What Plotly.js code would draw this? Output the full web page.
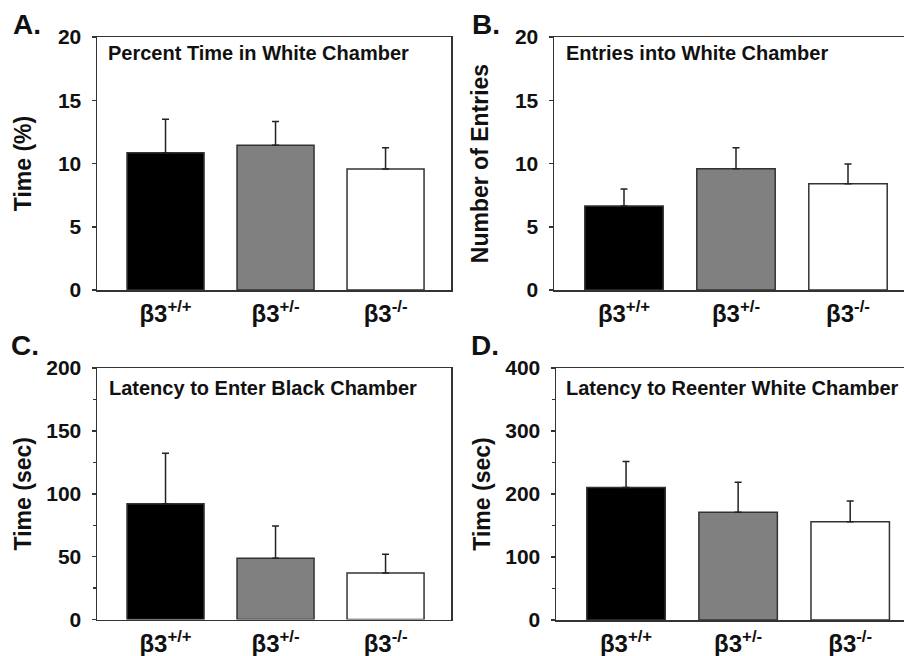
<!DOCTYPE html>
<html>
<head>
<meta charset="utf-8">
<script src="https://cdn.plot.ly/plotly-3.0.1.min.js"></script>
<style>html,body{margin:0;padding:0;background:#fff;}#chart{width:904px;height:656px;}</style>
</head>
<body>
<div id="chart"></div>
<script>
// ---- data ----
const genotypes = [0, 1, 2];
const genotypeLabels = ['β3<sup>+/+</sup>', 'β3<sup>+/-</sup>', 'β3<sup>-/-</sup>'];
const barColors = ['#000000', '#808080', '#ffffff'];

const percentTimeWhite = [10.85, 11.44, 9.57];
const percentTimeWhiteSem = [2.65, 1.89, 1.68];

const entriesWhite = [6.64, 9.59, 8.40];
const entriesWhiteSem = [1.34, 1.66, 1.56];

const latencyBlack = [92.1, 48.8, 36.9];
const latencyBlackSem = [40.2, 25.6, 14.9];

const latencyReenterWhite = [210.3, 171.2, 155.8];
const latencyReenterWhiteSem = [41.3, 47.4, 33.2];

const panelTitles = ['Percent Time in White Chamber', 'Entries into White Chamber',
                     'Latency to Enter Black Chamber', 'Latency to Reenter White Chamber'];
const panelLetters = ['A.', 'B.', 'C.', 'D.'];
const yTitles = ['Time (%)', 'Number of Entries', 'Time (sec)', 'Time (sec)'];

// ---- chart ----
const W = 904, H = 656;
const FONT = 'Liberation Sans, Arial, Helvetica, sans-serif';
const lineCol = '#333333';

function barTrace(vals, sems, xa, ya) {
  return {
    type: 'bar', x: genotypes, y: vals, width: 0.7,
    xaxis: xa, yaxis: ya,
    marker: {color: barColors, line: {color: lineCol, width: 1.5}},
    error_y: {type: 'data', array: sems, symmetric: false, arrayminus: [0, 0, 0],
              color: '#222222', thickness: 1.5, width: 3.5},
    showlegend: false, hoverinfo: 'skip'
  };
}

const data = [
  barTrace(percentTimeWhite, percentTimeWhiteSem, 'x', 'y'),
  barTrace(entriesWhite, entriesWhiteSem, 'x2', 'y2'),
  barTrace(latencyBlack, latencyBlackSem, 'x3', 'y3'),
  barTrace(latencyReenterWhite, latencyReenterWhiteSem, 'x4', 'y4')
];

function px(x) { return x / W; }
function py(y) { return 1 - y / H; }

function xAxis(d0, d1, range, anchor) {
  return {
    domain: [px(d0), px(d1)], range: range, anchor: anchor,
    tickvals: genotypes, ticktext: genotypeLabels,
    ticks: '', showgrid: false, zeroline: false,
    showline: true, linecolor: lineCol, linewidth: 1.5, mirror: true,
    tickfont: {family: FONT, size: 24, color: '#111', weight: 700},
    ticklabelstandoff: 2, fixedrange: true
  };
}
function yAxis(top, bottom, range, dtick, title, standoff, anchor, minorDtick) {
  const ax = {
    domain: [py(bottom), py(top)], range: range, dtick: dtick, anchor: anchor,
    ticks: 'outside', ticklen: 4, tickwidth: 1.5, tickcolor: lineCol,
    showgrid: false, zeroline: false,
    showline: true, linecolor: lineCol, linewidth: 1.5, mirror: true,
    tickfont: {family: FONT, size: 21, color: '#111', weight: 700},
    ticklabelstandoff: 6,
    title: {text: title, font: {family: FONT, size: 23, color: '#111', weight: 700}, standoff: standoff},
    fixedrange: true
  };
  if (minorDtick) ax.minor = {dtick: minorDtick, ticks: 'outside', ticklen: 3, tickcolor: lineCol, tickwidth: 1.2, showgrid: false};
  return ax;
}

const layout = {
  width: W, height: H,
  margin: {l: 0, r: 0, t: 0, b: 0},
  paper_bgcolor: '#ffffff', plot_bgcolor: '#ffffff',
  bargap: 0,
  xaxis: xAxis(97, 451, [-0.623, 2.595], 'y'),
  yaxis: yAxis(37, 290, [0, 20], 5, yTitles[0], 20, 'x'),
  xaxis2: xAxis(554, 904, [-0.625, 2.5], 'y2'),
  yaxis2: yAxis(37, 290, [0, 20], 5, yTitles[1], 20, 'x2'),
  xaxis3: xAxis(97, 451, [-0.623, 2.595], 'y3'),
  yaxis3: yAxis(368, 619.5, [0, 200], 50, yTitles[2], 8, 'x3', 25),
  xaxis4: xAxis(556, 904, [-0.625, 2.48], 'y4'),
  yaxis4: yAxis(368, 620, [0, 400], 100, yTitles[3], 8, 'x4', 50),
  annotations: [
    {text: panelLetters[0], x: px(11), y: py(25), xanchor: 'left', yanchor: 'middle'},
    {text: panelLetters[1], x: px(470), y: py(24), xanchor: 'left', yanchor: 'middle'},
    {text: panelLetters[2], x: px(9), y: py(345), xanchor: 'left', yanchor: 'middle'},
    {text: panelLetters[3], x: px(469), y: py(345), xanchor: 'left', yanchor: 'middle'}
  ].map(a => Object.assign(a, {xref: 'paper', yref: 'paper', showarrow: false,
        font: {family: FONT, size: 28, color: '#111', weight: 700}})).concat([
    {text: panelTitles[0], x: px(106), y: py(53)},
    {text: panelTitles[1], x: px(564), y: py(53)},
    {text: panelTitles[2], x: px(107), y: py(388)},
    {text: panelTitles[3], x: px(564), y: py(388)}
  ].map(a => Object.assign(a, {xref: 'paper', yref: 'paper', showarrow: false,
        xanchor: 'left', yanchor: 'middle',
        font: {family: FONT, size: 20, color: '#111', weight: 700}})))
};

Plotly.newPlot('chart', data, layout, {displayModeBar: false, staticPlot: true});
</script>
</body>
</html>
